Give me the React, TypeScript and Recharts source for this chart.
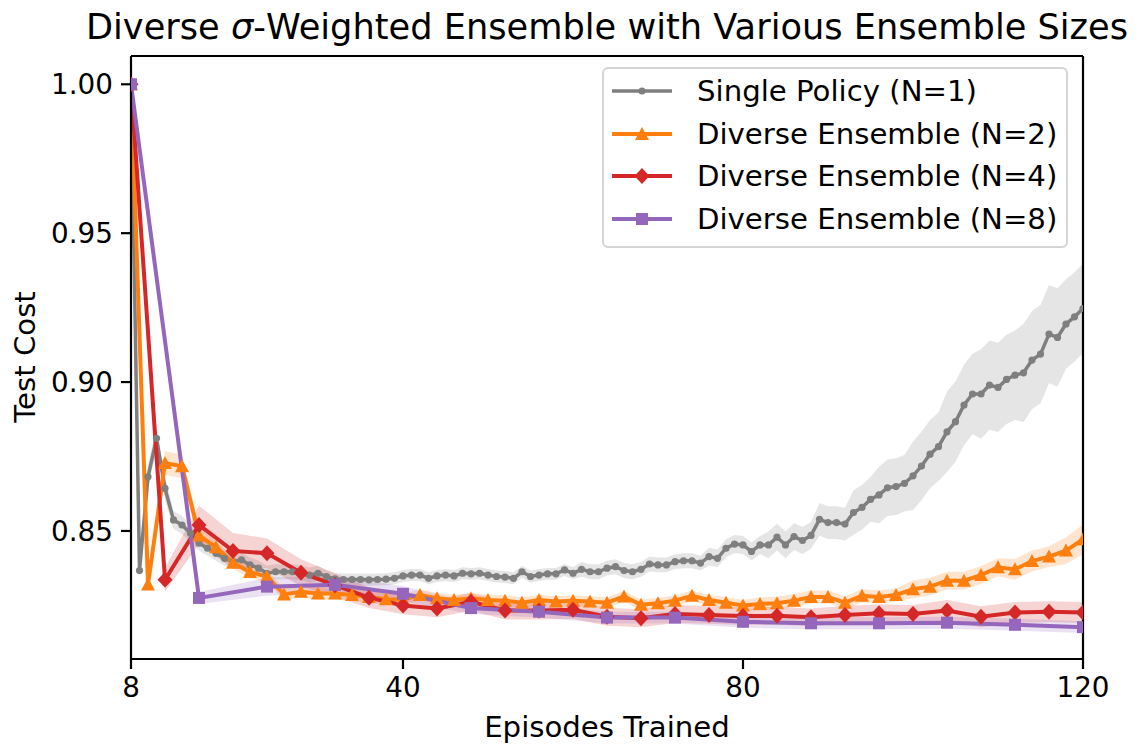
import { ComposedChart, Line, Area, XAxis, YAxis, Legend, ReferenceLine } from "recharts"

const FONT = "'DejaVu Sans', sans-serif"

function steps(start: number, end: number, step: number) {
  const out: number[] = []
  for (let x = start; x <= end; x += step) out.push(x)
  return out
}

// x positions of each run (episodes trained)
const episodesN1 = steps(8, 120, 1)
const episodesN2 = steps(8, 120, 2)
const episodesN4 = steps(8, 120, 4)
const episodesN8 = steps(8, 120, 8)

const xTicks = [8, 40, 80, 120]
const yTicks = [0.85, 0.9, 0.95, 1.0]

// Single policy (N=1), one value per episode
const singleMean = [
  1.0, 0.8367, 0.8682, 0.8811, 0.8643, 0.8537, 0.852, 0.8492, 0.8459, 0.8442,
  0.8425, 0.8408, 0.8397, 0.8403, 0.8386, 0.8375, 0.8358, 0.8363, 0.8363, 0.8363,
  0.836, 0.8352, 0.8358, 0.8347, 0.8339, 0.8337, 0.8337, 0.8337, 0.8336, 0.8337,
  0.8338, 0.8341, 0.8349, 0.8352, 0.8352, 0.8341, 0.8349, 0.8352, 0.8349, 0.8358,
  0.8356, 0.8358, 0.8352, 0.8347, 0.8345, 0.8341, 0.8363, 0.8347, 0.8352, 0.8356,
  0.8356, 0.8369, 0.8358, 0.8371, 0.8363, 0.8363, 0.8375, 0.838, 0.8367, 0.8363,
  0.8371, 0.8389, 0.8386, 0.8386, 0.8397, 0.84, 0.84, 0.8392, 0.8414, 0.8408,
  0.8442, 0.8456, 0.8453, 0.8431, 0.8453, 0.8453, 0.8479, 0.8453, 0.8481, 0.8468,
  0.8485, 0.8539, 0.8528, 0.8528, 0.8523, 0.8562, 0.8579, 0.8606, 0.8621, 0.8645,
  0.8649, 0.866, 0.8685, 0.8718, 0.8758, 0.8783, 0.8833, 0.8867, 0.8923, 0.896,
  0.896, 0.899, 0.8982, 0.9009, 0.9023, 0.9031, 0.9074, 0.9094, 0.9161, 0.915,
  0.9195, 0.9219, 0.9247,
]
const singleStd = [
  0.0005, 0.002, 0.004, 0.004, 0.004, 0.003, 0.003, 0.003, 0.0025, 0.0025,
  0.0025, 0.0025, 0.0025, 0.0025, 0.0025, 0.0025, 0.0025, 0.0025, 0.0025, 0.0025,
  0.0025, 0.0025, 0.0025, 0.002, 0.002, 0.002, 0.002, 0.002, 0.002, 0.002,
  0.002, 0.002, 0.002, 0.002, 0.002, 0.002, 0.002, 0.002, 0.002, 0.002,
  0.002, 0.002, 0.002, 0.002, 0.002, 0.002, 0.002, 0.002, 0.002, 0.002,
  0.002, 0.002, 0.002, 0.0025, 0.0025, 0.0025, 0.0025, 0.0025, 0.0025, 0.0025,
  0.0025, 0.0025, 0.0025, 0.0025, 0.0025, 0.0025, 0.0025, 0.0025, 0.003, 0.003,
  0.003, 0.003, 0.003, 0.003, 0.003, 0.0045, 0.0045, 0.0045, 0.0045, 0.0045,
  0.0045, 0.0055, 0.0055, 0.0055, 0.0055, 0.0075, 0.0075, 0.0075, 0.0095, 0.0095,
  0.0095, 0.0095, 0.0115, 0.0115, 0.0115, 0.0115, 0.0135, 0.0135, 0.0135, 0.0135,
  0.015, 0.015, 0.015, 0.015, 0.015, 0.0165, 0.0165, 0.0165, 0.0165, 0.0165,
  0.015, 0.015, 0.015,
]

// Diverse ensemble N=2, every 2 episodes
const n2Mean = [
  1.0, 0.832, 0.8728, 0.8717, 0.8485, 0.8445, 0.8393, 0.8362, 0.8347, 0.8287,
  0.8296, 0.829, 0.829, 0.8285, 0.8278, 0.8271, 0.827, 0.8285, 0.8274, 0.8268,
  0.8274, 0.8268, 0.8266, 0.8259, 0.8268, 0.8263, 0.8266, 0.8263, 0.8259, 0.828,
  0.8252, 0.8257, 0.8266, 0.8282, 0.8268, 0.8259, 0.825, 0.8255, 0.8257, 0.8266,
  0.8278, 0.8278, 0.8259, 0.8282, 0.8278, 0.8285, 0.8304, 0.8313, 0.8333, 0.8333,
  0.8352, 0.8378, 0.8371, 0.8399, 0.8414, 0.8434, 0.8472,
]
const n2Std = [
  0.0005, 0.002, 0.004, 0.004, 0.003, 0.002, 0.002, 0.002, 0.002, 0.002,
  0.002, 0.002, 0.002, 0.002, 0.002, 0.002, 0.0018, 0.0018, 0.0018, 0.0018,
  0.0018, 0.0018, 0.0018, 0.0018, 0.0018, 0.0018, 0.0018, 0.0018, 0.0018, 0.0018,
  0.0018, 0.0018, 0.0018, 0.0018, 0.0018, 0.0018, 0.0018, 0.0022, 0.0022, 0.0022,
  0.0022, 0.0022, 0.0022, 0.0022, 0.0022, 0.0022, 0.003, 0.003, 0.003, 0.003,
  0.003, 0.003, 0.0035, 0.0035, 0.0035, 0.0045, 0.005,
]

// Diverse ensemble N=4, every 4 episodes
const n4Mean = [
  1.0, 0.8336, 0.852, 0.8433, 0.8425, 0.836, 0.8318, 0.8276, 0.825, 0.824,
  0.8262, 0.8233, 0.8233, 0.8235, 0.8212, 0.8207, 0.8221, 0.8218, 0.8214, 0.8215,
  0.821, 0.8218, 0.8224, 0.8221, 0.8233, 0.8212, 0.8226, 0.8229, 0.8226,
]
const n4Std = [
  0.0005, 0.004, 0.0065, 0.006, 0.005, 0.0045, 0.004, 0.0035, 0.003, 0.003,
  0.003, 0.003, 0.003, 0.003, 0.003, 0.003, 0.003, 0.003, 0.003, 0.003,
  0.003, 0.003, 0.003, 0.003, 0.0035, 0.0035, 0.0035, 0.0035, 0.0035,
]

// Diverse ensemble N=8, every 8 episodes
const n8Mean = [
  1.0, 0.8275, 0.8313, 0.8319, 0.8289, 0.8241, 0.8229, 0.8209, 0.8209, 0.8195,
  0.819, 0.819, 0.8192, 0.8185, 0.8177,
]
const n8Std = [
  0.0005, 0.002, 0.003, 0.003, 0.0025, 0.002, 0.002, 0.002, 0.002, 0.002,
  0.002, 0.002, 0.002, 0.002, 0.002,
]

function toRows(eps: number[], mean: number[], std: number[]) {
  return eps.map((ep, i) => ({
    ep,
    v: mean[i],
    band: [mean[i] - std[i], mean[i] + std[i]],
  }))
}

type Shape = "circle" | "triangle" | "diamond" | "square"

function markerPath(shape: Shape, x: number, y: number) {
  if (shape === "triangle") return `M${x},${y - 7} L${x + 7},${y + 6} L${x - 7},${y + 6} Z`
  if (shape === "diamond") return `M${x},${y - 8} L${x + 7.5},${y} L${x},${y + 8} L${x - 7.5},${y} Z`
  if (shape === "square") return `M${x - 6},${y - 6} H${x + 6} V${y + 6} H${x - 6} Z`
  return `M${x - 3.6},${y} a3.6,3.6 0 1,0 7.2,0 a3.6,3.6 0 1,0 -7.2,0`
}

const series = [
  { name: "Single Policy (N=1)", color: "#7f7f7f", shape: "circle" as Shape, width: 3.5, rows: toRows(episodesN1, singleMean, singleStd) },
  { name: "Diverse Ensemble (N=2)", color: "#ff7f0e", shape: "triangle" as Shape, width: 4, rows: toRows(episodesN2, n2Mean, n2Std) },
  { name: "Diverse Ensemble (N=4)", color: "#d62728", shape: "diamond" as Shape, width: 4, rows: toRows(episodesN4, n4Mean, n4Std) },
  { name: "Diverse Ensemble (N=8)", color: "#9467bd", shape: "square" as Shape, width: 4, rows: toRows(episodesN8, n8Mean, n8Std) },
]

const Y_MIN = 0.807
const Y_MAX = 1.0095

function LegendBox() {
  return (
    <div
      style={{
        width: 466,
        boxSizing: "border-box",
        border: "2px solid #d4d4d4",
        borderRadius: 6,
        background: "rgba(255,255,255,0.8)",
        padding: "1px 0 6px 0",
        fontFamily: FONT,
        fontSize: 29.2,
        color: "#000",
      }}
    >
      {series.map((s) => (
        <div key={s.name} style={{ display: "flex", alignItems: "center", height: 42.5 }}>
          <svg width={93} height={20} style={{ flex: "none" }}>
            <line x1={8} x2={68} y1={10} y2={10} stroke={s.color} strokeWidth={s.width} />
            <path d={markerPath(s.shape, 38, 10)} fill={s.color} />
          </svg>
          <span style={{ whiteSpace: "nowrap" }}>{s.name}</span>
        </div>
      ))}
    </div>
  )
}

export default function App() {
  const axisTick = { fill: "#000", fontSize: 27.8, fontFamily: FONT }
  return (
    <div style={{ position: "fixed", left: 0, top: 0, width: 1138, height: 747, background: "#fff" }}>
      <div
        style={{
          position: "absolute",
          left: 607,
          top: 27,
          transform: "translate(-50%, -50%)",
          whiteSpace: "nowrap",
          fontFamily: FONT,
          fontSize: 35.2,
          lineHeight: 1.2,
        }}
      >
        Diverse <i>σ</i>-Weighted Ensemble with Various Ensemble Sizes
      </div>
      <ComposedChart
        width={1138}
        height={747}
        margin={{ top: 56, right: 55, bottom: 0, left: 0 }}
      >
        <XAxis
          dataKey="ep"
          type="number"
          domain={[8, 120]}
          ticks={xTicks}
          allowDataOverflow
          height={88}
          tickSize={10}
          tickMargin={8}
          tick={axisTick}
          axisLine={{ stroke: "#000", strokeWidth: 2.2 }}
          tickLine={{ stroke: "#000", strokeWidth: 2.2 }}
        />
        <YAxis
          type="number"
          domain={[Y_MIN, Y_MAX]}
          ticks={yTicks}
          allowDataOverflow
          width={131}
          tickSize={10}
          tickMargin={8}
          tick={axisTick}
          tickFormatter={(v: number) => v.toFixed(2)}
          axisLine={{ stroke: "#000", strokeWidth: 2.2 }}
          tickLine={{ stroke: "#000", strokeWidth: 2.2 }}
        />
        <ReferenceLine y={Y_MAX} stroke="#000" strokeWidth={2.2} />
        <ReferenceLine x={120} stroke="#000" strokeWidth={2.2} />
        {series.map((s) => (
          <Area
            key={s.name + "-band"}
            data={s.rows}
            dataKey="band"
            type="linear"
            stroke="none"
            fill={s.color}
            fillOpacity={0.2}
            isAnimationActive={false}
            legendType="none"
            activeDot={false}
          />
        ))}
        {series.map((s) => (
          <Line
            key={s.name}
            data={s.rows}
            dataKey="v"
            name={s.name}
            type="linear"
            stroke={s.color}
            strokeWidth={s.width}
            isAnimationActive={false}
            activeDot={false}
            dot={(p: any) => (
              <path key={`${s.name}-${p.index}`} d={markerPath(s.shape, p.cx, p.cy)} fill={s.color} />
            )}
          />
        ))}
        <Legend
          layout="horizontal"
          verticalAlign="middle"
          align="center"
          content={() => <LegendBox />}
          wrapperStyle={{ position: "absolute", left: 602, top: 67, width: 466 }}
        />
      </ComposedChart>
      <div
        style={{
          position: "absolute",
          left: 607,
          top: 727,
          transform: "translate(-50%, -50%)",
          whiteSpace: "nowrap",
          fontFamily: FONT,
          fontSize: 29.2,
        }}
      >
        Episodes Trained
      </div>
      <div
        style={{
          position: "absolute",
          left: 25,
          top: 357,
          transform: "translate(-50%, -50%) rotate(-90deg)",
          whiteSpace: "nowrap",
          fontFamily: FONT,
          fontSize: 29.2,
        }}
      >
        Test Cost
      </div>
    </div>
  )
}
